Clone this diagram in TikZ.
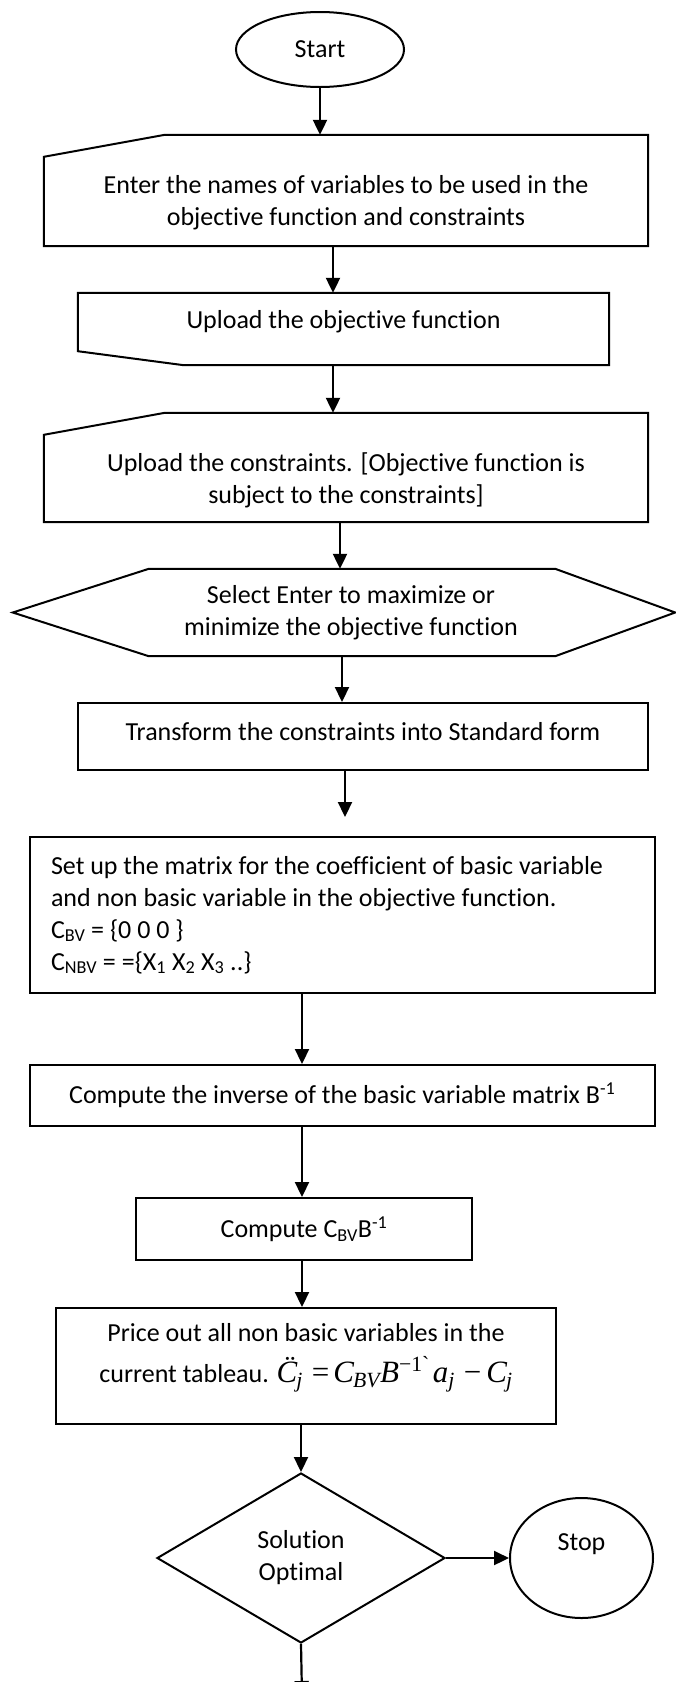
\documentclass[tikz,border=0pt]{standalone}
\usepackage{fix-cm}
\usepackage{fontspec}
\setmainfont{Carlito}[Ligatures={TeX,NoCommon}]
\newfontfamily\tnrfont{Liberation Serif}
\usetikzlibrary{shapes.geometric,arrows.meta,calc}
\newcommand\padbox[5]{\parbox[c][#2][c]{#1}{\vspace*{#3}\centering #5\par\vspace*{#4}}}
\tikzset{
  shp/.style={draw, line width=2pt, inner sep=0pt},
  plain/.style={inner sep=0pt},
  outl/.style={draw, line width=2pt, line join=miter},
  arr/.style={line width=2.2pt, -{Triangle[length=15pt,width=14pt]}},
  every node/.style={font=\fontsize{26}{32}\selectfont}
}
\begin{document}
\begin{tikzpicture}[x=1pt,y=-1pt]
\fill[white] (0,0) rectangle (676,1682);
\useasboundingbox (0,0) rectangle (676,1682);
\clip (0,0) rectangle (676,1682);

% start
\node[shp, ellipse, minimum width=168pt, minimum height=75pt] (st) at (320,49.5) {Start\hspace{26pt}};

% manual input 1
\node[plain] (b1) at (346,190.5) {\padbox{604pt}{111pt}{24pt}{0pt}{Enter the names of variables to be used in the\\objective function and constraints}};
\draw[outl] (b1.south west) -- ($(b1.north west)+(0pt,-22pt)$) -- ($(b1.north west)+(121pt,0pt)$) -- (b1.north east) -- (b1.south east) -- cycle;

% box 2
\node[plain] (b2) at (343.5,329) {\padbox{531pt}{72pt}{0pt}{14pt}{Upload the objective function}};
\draw[outl] (b2.north west) -- (b2.north east) -- (b2.south east) -- ($(b2.south west)+(106pt,0pt)$) -- ($(b2.south west)+(0pt,14pt)$) -- cycle;

% manual input 3
\node[plain] (b3) at (346,467.5) {\padbox{604pt}{109pt}{25pt}{0pt}{Upload the constraints. [Objective function is\\subject to the constraints]}};
\draw[outl] (b3.south west) -- ($(b3.north west)+(0pt,-22pt)$) -- ($(b3.north west)+(121pt,0pt)$) -- (b3.north east) -- (b3.south east) -- cycle;

% hexagon
\node[plain] (hx) at (344,612.5) {\padbox{662pt}{87pt}{0pt}{0pt}{\hspace*{14pt}Select Enter to maximize or\\\hspace*{14pt}minimize the objective function}};
\draw[outl] (hx.west) -- ($(hx.north west)+(136pt,0pt)$) -- ($(hx.north east)+(-120pt,0pt)$) -- (hx.east) -- ($(hx.south east)+(-120pt,0pt)$) -- ($(hx.south west)+(136pt,0pt)$) -- cycle;

% box 5
\node[shp] (b5) at (363,736.5) {\padbox{570pt}{67pt}{0pt}{9pt}{Transform the constraints into Standard form}};

% box 6
\node[shp] (b6) at (342.25,915) {\parbox[c][156pt][c]{625.5pt}{\raggedright\leftskip=21.5pt
Set up the matrix for the coefficient of basic variable\\
and non basic variable in the objective function.\\
C\textsubscript{BV} = \{0 0 0 \}\\
C\textsubscript{NBV} = =\{X\textsubscript{1} X\textsubscript{2} X\textsubscript{3} ..\}\par}};

% box 7
\node[shp] (b7) at (342.25,1095.5) {\padbox{625.5pt}{61pt}{0pt}{0pt}{Compute the inverse of the basic variable matrix B\textsuperscript{-1}}};

% box 8
\node[shp] (b8) at (304,1229) {\padbox{336pt}{62pt}{0pt}{0pt}{Compute C\textsubscript{BV}B\textsuperscript{-1}}};

% box 9
\node[shp] (b9) at (306,1366) {\padbox{500pt}{116pt}{0pt}{17pt}{Price out all non basic variables in the\\[9pt]
current tableau. {\tnrfont\fontsize{31}{36}\selectfont\itshape C̈\kern-1pt\textsubscript{j}\kern9pt{\upshape=}\kern4pt C\kern-1pt\textsubscript{BV}B\textsuperscript{\upshape −1`}\kern3pt a\textsubscript{j}\kern9pt{\upshape −}\kern5pt C\kern-1pt\textsubscript{j}}}};

% decision
\node[shp, diamond, minimum width=288pt, minimum height=170pt, align=center] (dm) at (301,1558) {Solution\\Optimal};

% stop
\node[shp, ellipse, minimum width=143pt, minimum height=120pt] (sp) at (581.5,1558) {\raisebox{14pt}[\height][\depth]{Stop}};

% x positions of connectors
\coordinate (xa) at (333,0);
\coordinate (xb) at (340,0);
\coordinate (xc) at (342,0);
\coordinate (xd) at (345,0);
\coordinate (xe) at (302,0);
\coordinate (gapend) at (345,817);
\coordinate (bottomend) at (302,1696);

\draw[arr] (st.south) -- (st.south |- b1.north);
\draw[arr] (b1.south -| xa) -- (b2.north -| xa);
\draw[arr] (b2.south -| xa) -- (b3.north -| xa);
\draw[arr] (b3.south -| xb) -- (hx.north -| xb);
\draw[arr] (hx.south -| xc) -- (b5.north -| xc);
\draw[arr] (b5.south -| xd) -- (gapend);
\draw[arr] (b6.south -| xe) -- (b7.north -| xe);
\draw[arr] (b7.south -| xe) -- (b8.north -| xe);
\draw[arr] (b8.south -| xe) -- (b9.north -| xe);
\draw[arr] (b9.south -| dm.north) -- (dm.north);
\draw[arr] (dm.east) -- (sp.west);
\draw[arr] (dm.south) -- (bottomend);
\end{tikzpicture}
\end{document}
